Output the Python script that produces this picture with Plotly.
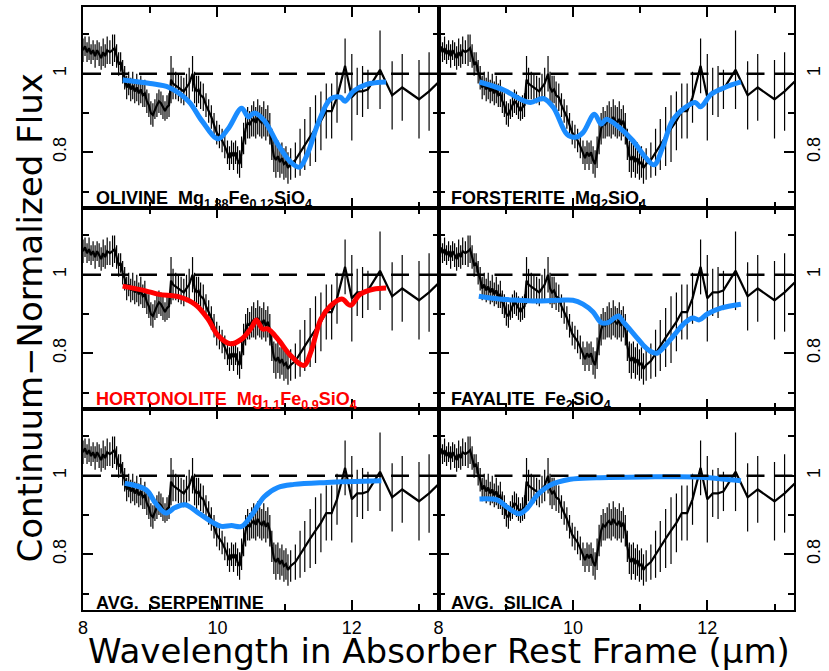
import plotly.graph_objects as go
from plotly.subplots import make_subplots

# Observed continuum-normalized spectrum (same in every panel)
wave = [8.00, 8.03, 8.06, 8.09, 8.12, 8.15, 8.18, 8.21, 8.24, 8.27, 8.30, 8.33, 8.36, 8.40, 8.44, 8.47,
        8.50, 8.53, 8.56, 8.59, 8.62, 8.65, 8.68, 8.71, 8.74, 8.77, 8.80, 8.83, 8.86, 8.89, 8.92, 8.95,
        8.98, 9.01, 9.04, 9.07, 9.10, 9.13, 9.16, 9.19, 9.22, 9.25, 9.28, 9.31, 9.34, 9.38, 9.42, 9.46,
        9.50, 9.54, 9.58, 9.63, 9.66, 9.69, 9.72, 9.75, 9.79, 9.83, 9.87, 9.91, 9.95, 9.99, 10.03, 10.07,
        10.11, 10.15, 10.18, 10.21, 10.24, 10.27, 10.30, 10.33, 10.36, 10.39, 10.42, 10.45, 10.48, 10.51,
        10.54, 10.57, 10.60, 10.63, 10.66, 10.69, 10.72, 10.75, 10.78, 10.81, 10.84, 10.87, 10.90, 10.93,
        10.96, 10.99, 11.02, 11.05, 11.09, 11.16, 11.23, 11.30, 11.38, 11.46, 11.54, 11.62, 11.70, 11.78,
        11.90, 12.00, 12.08, 12.16, 12.24, 12.42, 12.60, 12.75, 13.00, 13.15, 13.30]
flux = [1.06, 1.07, 1.055, 1.065, 1.05, 1.06, 1.045, 1.06, 1.05, 1.04, 1.055, 1.045, 1.06, 1.055, 1.06, 1.065,
        1.045, 1.025, 1.03, 1.005, 0.99, 0.965, 0.975, 0.96, 0.97, 0.955, 0.965, 0.95, 0.96, 0.945, 0.95, 0.93,
        0.92, 0.90, 0.895, 0.91, 0.92, 0.93, 0.925, 0.915, 0.905, 0.915, 0.92, 0.985, 0.975, 0.97, 0.965, 0.96,
        0.955, 0.965, 0.975, 1.00, 0.965, 0.955, 0.96, 0.945, 0.94, 0.92, 0.905, 0.89, 0.87, 0.85, 0.84, 0.83,
        0.815, 0.80, 0.785, 0.80, 0.79, 0.80, 0.78, 0.77, 0.80, 0.835, 0.86, 0.875, 0.87, 0.88,
        0.885, 0.875, 0.89, 0.88, 0.875, 0.885, 0.87, 0.88, 0.86, 0.82, 0.79, 0.78, 0.79, 0.775,
        0.785, 0.77, 0.775, 0.76, 0.77, 0.78, 0.80, 0.82, 0.84, 0.86, 0.88, 0.905, 0.905, 0.94,
        1.02, 0.94, 0.955, 0.955, 0.96, 1.01, 0.945, 0.965, 0.935, 0.955, 0.98]
err = [0.03, 0.025, 0.025, 0.03, 0.025, 0.025, 0.03, 0.025, 0.03, 0.03, 0.035, 0.03, 0.035, 0.03, 0.04, 0.035,
       0.03, 0.03, 0.025, 0.03, 0.03, 0.03, 0.03, 0.03, 0.035, 0.03, 0.035, 0.03, 0.035, 0.03, 0.035, 0.03,
       0.03, 0.03, 0.03, 0.025, 0.03, 0.03, 0.03, 0.03, 0.025, 0.03, 0.03, 0.06, 0.04, 0.035, 0.035, 0.035,
       0.035, 0.035, 0.04, 0.045, 0.04, 0.04, 0.035, 0.035, 0.035, 0.03, 0.03, 0.03, 0.03, 0.03, 0.03, 0.03,
       0.03, 0.03, 0.03, 0.03, 0.035, 0.03, 0.035, 0.035, 0.04, 0.04, 0.04, 0.04, 0.035, 0.04,
       0.045, 0.04, 0.045, 0.04, 0.04, 0.045, 0.04, 0.04, 0.04, 0.04, 0.04, 0.045, 0.04, 0.04,
       0.04, 0.04, 0.04, 0.04, 0.04, 0.045, 0.06, 0.065, 0.075, 0.085, 0.075, 0.07, 0.07, 0.065,
       0.07, 0.11, 0.06, 0.065, 0.05, 0.10, 0.087, 0.085, 0.10, 0.10, 0.10]

# Model mineral profiles
olivine_w = [8.59, 9.00, 9.28, 9.57, 9.77, 10.01, 10.16, 10.36, 10.46, 10.55, 10.70, 10.90, 11.09, 11.22,
             11.34, 11.49, 11.68, 11.83, 11.90, 12.02, 12.22, 12.51]
olivine_f = [0.984, 0.975, 0.965, 0.93, 0.88, 0.834, 0.86, 0.912, 0.89, 0.90, 0.88, 0.82, 0.775, 0.762,
             0.796, 0.87, 0.935, 0.94, 0.93, 0.955, 0.973, 0.979]
forst_w = [8.61, 8.98, 9.22, 9.37, 9.56, 9.71, 9.91, 10.03, 10.15, 10.32, 10.42, 10.50, 10.69, 10.89,
           11.08, 11.21, 11.33, 11.48, 11.67, 11.82, 11.90, 12.06, 12.26, 12.50]
forst_f = [0.979, 0.958, 0.935, 0.927, 0.937, 0.914, 0.846, 0.838, 0.85, 0.897, 0.872, 0.884, 0.863, 0.83,
           0.787, 0.768, 0.81, 0.88, 0.914, 0.927, 0.916, 0.948, 0.965, 0.979]
horton_w = [8.59, 8.93, 9.13, 9.42, 9.67, 9.86, 10.01, 10.19, 10.36, 10.51, 10.58, 10.67, 10.75, 10.90,
            11.09, 11.29, 11.39, 11.54, 11.68, 11.85, 11.98, 12.12, 12.32, 12.51]
horton_f = [0.971, 0.959, 0.95, 0.944, 0.924, 0.887, 0.845, 0.824, 0.836, 0.866, 0.885, 0.862, 0.862, 0.836,
            0.794, 0.769, 0.803, 0.887, 0.92, 0.938, 0.922, 0.95, 0.963, 0.966]
fayal_w = [8.60, 8.90, 9.20, 9.50, 9.80, 10.00, 10.15, 10.30, 10.42, 10.52, 10.62, 10.68, 10.75, 10.85,
           10.95, 11.05, 11.15, 11.25, 11.35, 11.50, 11.65, 11.78, 11.88, 12.00, 12.20, 12.50]
fayal_f = [0.945, 0.938, 0.935, 0.933, 0.935, 0.935, 0.925, 0.905, 0.878, 0.878, 0.89, 0.895, 0.88, 0.86,
           0.84, 0.82, 0.805, 0.80, 0.815, 0.845, 0.875, 0.89, 0.885, 0.90, 0.915, 0.925]
serp_w = [8.62, 8.94, 9.08, 9.23, 9.37, 9.52, 9.72, 9.92, 10.06, 10.21, 10.36, 10.51, 10.70, 10.90,
          11.14, 11.63, 12.44]
serp_f = [0.981, 0.964, 0.93, 0.905, 0.919, 0.926, 0.905, 0.882, 0.871, 0.873, 0.871, 0.90, 0.947, 0.97,
          0.978, 0.983, 0.987]
silica_w = [8.61, 8.88, 9.02, 9.20, 9.32, 9.47, 9.66, 9.96, 10.35, 11.08, 11.82, 12.16, 12.50]
silica_f = [0.941, 0.938, 0.92, 0.903, 0.917, 0.951, 0.976, 0.991, 0.995, 0.997, 0.997, 0.993, 0.987]

BLUE = "#1a8cff"
RED = "#ff0000"
panels = [
    (1, 1, olivine_w, olivine_f, BLUE, "OLIVINE  Mg<sub>1.88</sub>Fe<sub>0.12</sub>SiO<sub>4</sub>", "black"),
    (1, 2, forst_w, forst_f, BLUE, "FORSTERITE  Mg<sub>2</sub>SiO<sub>4</sub>", "black"),
    (2, 1, horton_w, horton_f, RED, "HORTONOLITE  Mg<sub>1.1</sub>Fe<sub>0.9</sub>SiO<sub>4</sub>", RED),
    (2, 2, fayal_w, fayal_f, BLUE, "FAYALITE  Fe<sub>2</sub>SiO<sub>4</sub>", "black"),
    (3, 1, serp_w, serp_f, BLUE, "AVG.  SERPENTINE", "black"),
    (3, 2, silica_w, silica_f, BLUE, "AVG.  SILICA", "black"),
]

fig = make_subplots(rows=3, cols=2, horizontal_spacing=0, vertical_spacing=0)
FONT = "Liberation Sans"
TFONT = "DejaVu Sans"

for i, (r, c, mw, mf, col, label, lcol) in enumerate(panels):
    fig.add_trace(go.Scatter(x=wave, y=flux, mode="lines",
                             line=dict(color="black", width=2.2),
                             error_y=dict(type="data", array=err, color="black", thickness=1.2, width=0),
                             showlegend=False), row=r, col=c)
    fig.add_trace(go.Scatter(x=mw, y=mf, mode="lines",
                             line=dict(color=col, width=5, shape="spline"),
                             showlegend=False), row=r, col=c)
    fig.add_hline(y=1, line=dict(color="black", width=2.5, dash="18px,10px"), row=r, col=c)
    ax = "" if i == 0 else str(i + 1)
    fig.add_annotation(text=label, xref=f"x{ax} domain", yref=f"y{ax} domain",
                       x=0.03, y=-0.025, xanchor="left", yanchor="bottom", showarrow=False,
                       font=dict(family=FONT, size=18, color=lcol, weight="bold"))

tick_common = dict(ticks="inside", tickcolor="black", tickwidth=1.5, showline=True, linewidth=2,
                   linecolor="black", mirror="ticks", showgrid=False, zeroline=False,
                   tickfont=dict(family=FONT, size=18, color="black"))

fig.update_xaxes(range=[8, 13.29], tick0=8, dtick=2, ticklen=10,
                 minor=dict(ticks="inside", ticklen=6, dtick=1, tick0=8, tickcolor="black",
                            tickwidth=1.5, showgrid=False),
                 **tick_common)
fig.update_xaxes(showticklabels=False, row=1)
fig.update_xaxes(showticklabels=False, row=2)

fig.update_yaxes(range=[0.658, 1.17], tick0=0.8, dtick=0.2, ticklen=10, tickangle=-90,
                 minor=dict(ticks="inside", ticklen=6, dtick=0.1, tick0=0.8, tickcolor="black",
                            tickwidth=1.5, showgrid=False),
                 **tick_common)
fig.update_yaxes(side="left", ticklabelstandoff=8, col=1)
fig.update_yaxes(side="right", ticklabelstandoff=2, col=2)

fig.add_annotation(text="Continuum\u2212Normalized Flux", xref="paper", yref="paper",
                   x=-0.074, y=0.484, xanchor="center", yanchor="middle", textangle=-90,
                   showarrow=False, font=dict(family=TFONT, size=34, color="black"))
fig.add_annotation(text="Wavelength in Absorber Rest Frame (\u03bcm)", xref="paper", yref="paper",
                   x=0.5, y=-0.068, xanchor="center", yanchor="middle",
                   showarrow=False, font=dict(family=TFONT, size=34, color="black"))

fig.update_layout(width=829, height=671, margin=dict(l=83, r=26, t=5, b=61),
                  plot_bgcolor="white", paper_bgcolor="white", showlegend=False)

fig.write_html("out.html", config={"displayModeBar": False},
               post_script="document.body.style.margin='0';document.body.style.overflow='hidden';")
